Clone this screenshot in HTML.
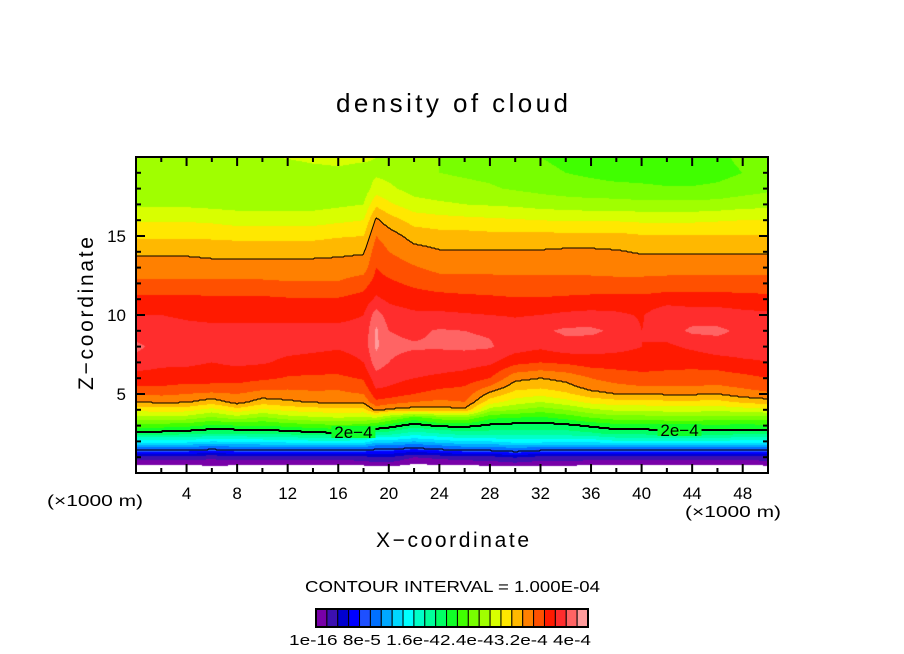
<!DOCTYPE html>
<html><head><meta charset="utf-8"><style>
body{margin:0;background:#fff;width:904px;height:654px;overflow:hidden;position:relative;font-family:"Liberation Sans",sans-serif}
canvas{position:absolute;left:0;top:0}
svg{position:absolute;left:0;top:0}
</style></head><body>
<canvas id="field" width="904" height="654"></canvas>
<svg id="ov" width="904" height="654">
<text x="336" y="112" font-size="26" textLength="232" lengthAdjust="spacing">density of cloud</text>
<text x="376" y="547" font-size="21" textLength="153" lengthAdjust="spacing">X−coordinate</text>
<text transform="translate(93,390) rotate(-90)" font-size="21" textLength="153" lengthAdjust="spacing">Z−coordinate</text>
<text x="47" y="506" font-size="16" textLength="96" lengthAdjust="spacingAndGlyphs">(×1000 m)</text>
<text x="685" y="517" font-size="16" textLength="96" lengthAdjust="spacingAndGlyphs">(×1000 m)</text>
<text x="305" y="592" font-size="16" textLength="295" lengthAdjust="spacingAndGlyphs">CONTOUR INTERVAL = 1.000E-04</text>
<g id="axes"></g>
<g id="cbar"></g>
<g id="clines"></g>
</svg>
<script>
// ---- data ----
const xCols=[0,2,4,6,8,10,12,14,16,18,19,20,22,24,26,28,30,32,34,36,38,40,42,44,46,48,50];
const zRows=[0,0.5,1,1.5,2,2.5,3,3.5,4,4.5,5,5.5,6,7,8,9,10,11,12,13,14,15,16,17,18,19,20];
const field=[
[-3,1.0,2.6,6,9.5,12.5,14.5,16.5,18.3,20,21,22,22.6,23.5,24.3,23.3,23,22.3,21.2,20.5,19.8,18.8,17.9,16.8,16.3,16.2,16.2],
[-3,1.1,2.6,6,9.5,12.5,14.5,16.6,18.5,20.2,21.2,22,22.6,23.2,23.5,23.3,23,22.3,21.2,20.5,19.8,18.8,17.9,16.8,16.3,16.2,16.3],
[-3,0.9,2.6,6,9.5,12.3,14.3,16.5,18.4,20.1,21,21.8,22.5,23.2,23.4,23.2,22.9,22.3,21.2,20.5,19.8,18.8,17.9,16.8,16.3,16.2,16.3],
[-3,1.4,2.2,5.5,9,12,13.8,15.8,17.6,19.5,20.8,21.8,22.4,23,23.5,23.2,22.8,22.2,21.2,20.4,19.7,18.8,17.8,16.7,16.2,16.1,16.3],
[-3,1.1,2.6,6,9.2,12,14,16.5,18.6,20.4,21,21.8,22.4,23.2,23.4,23.2,22.8,22.2,21.2,20.4,19.7,18.7,17.6,16.6,16.1,16.1,16.4],
[-3,1.1,2.6,6,9.3,12.2,14,15.8,17.8,19.5,20.6,21.4,22.2,23.1,23.4,23.2,22.8,22.2,21.2,20.4,19.7,18.7,17.6,16.6,16.1,16.2,16.9],
[-3,1.0,2.6,6,9.5,12.3,14.3,16.5,18.3,19.8,20.6,21.3,21.9,22.8,23.3,23.2,22.8,22.1,21.1,20.4,19.7,18.7,17.6,16.6,16.1,16.3,17.1],
[-3,1.0,2.6,6,9.7,12.7,14.6,16.8,18.5,20.1,20.8,21.3,21.8,22.7,23.2,23.2,22.8,22.1,21.1,20.4,19.7,18.7,17.6,16.6,16.2,16.6,17.3],
[-3,1.1,2.6,6,9.7,12.8,14.8,17,18.7,20.2,20.8,21.2,21.8,22.6,23.1,23.2,22.8,22.1,21.1,20.4,19.8,18.9,17.8,16.8,16.4,16.8,17.3],
[-3,1.2,2.6,6,9.6,12.6,14.6,16.8,18.6,20.3,21,21.6,22.1,23,23.3,23.2,23,22.4,21.6,20.5,19.9,19.0,18.0,17,16.4,16.6,17.2],
[-3,1.5,3,5.5,8.5,11.5,14,17,20.3,21.8,22.6,23.2,23.6,24.5,25.2,25.2,24.5,23.2,22.4,22,21.6,21,20.2,18.8,17.5,16.8,17],
[-2,1.5,3,5.5,8.5,11.5,13.5,16,19.8,21.5,22.5,23,23.3,24,24.2,24,23.5,22.8,22.2,21.6,21,20.5,19.5,18.2,17.2,16.7,17],
[-3,0.8,2,5,8,10.5,12.5,14.6,19.5,21,22,22.6,23,23.6,24.1,23.8,23.2,22.5,21.8,21.1,20.4,19.6,18.6,17.4,16.6,16.3,16.5],
[-3,1.0,2.3,5.5,8.5,11,13.2,15.5,19.5,20.8,21.6,22.2,22.8,23.5,24.1,24.1,23.2,22.4,21.5,20.7,20.1,19.4,18.4,17.2,16.3,16,16],
[-3,1.1,2.6,6,9,11.5,13.3,15.8,19.8,21,21.6,22,22.6,23.4,24.2,24,23.1,22.3,21.4,20.7,20.1,19.4,18.3,17,16.2,15.9,15.8],
[-3,1.3,2.6,6,9,11.5,12.8,14.2,16.5,18.5,19.7,21,22,23.2,24.1,23.9,23,22.2,21.4,20.7,20.1,19.3,18.2,16.9,16.1,15.8,15.6],
[-3,1.5,3.1,6.5,9.5,11.5,12.6,14,16,17.5,18.6,19.5,20.3,22.3,23.5,23.5,22.9,22.1,21.3,20.7,20.1,19.3,18.1,16.8,15.9,15.5,15.3],
[-3,1.3,2.6,6,9.5,11.5,12.5,13.8,15.5,17,18.3,19.3,20,22,23.2,23.8,23,22.1,21.3,20.7,20.1,19.3,18,16.6,15.7,15.2,15],
[-3,1.3,2.6,6,9.3,11.5,12.7,14.3,16,17.6,18.8,19.7,20.3,22.2,23.6,24.2,23.2,22.2,21.3,20.7,20.2,19.3,17.9,16.5,15.5,15,14.8],
[-3,1.1,2.6,6,9.3,11.8,13.2,15,16.8,18.3,19.6,20.5,21,22.5,23.5,24.2,23.3,22.3,21.3,20.7,20.2,19.3,17.9,16.4,15.4,14.8,14.6],
[-3,1.1,2.6,6,9.8,12.3,13.6,15.5,17.2,18.6,20,20.8,21.4,22.5,23.3,23.8,23.2,22.3,21.3,20.6,20.1,19.3,17.9,16.4,15.3,14.6,14.5],
[-3,1.1,2.6,6,9.8,12.3,13.6,15.5,17.2,18.6,20,21,21.6,22.6,23,23,22.9,22.3,21.3,20.6,19.9,19.1,17.8,16.3,15.2,14.6,14.5],
[-3,1.0,2.6,6,9.8,12.4,13.8,15.7,17.4,18.8,20.1,21,21.6,22.4,22.8,23.5,23.8,22.5,21.4,20.6,19.9,19.1,17.8,16.3,15.1,14.5,14.5],
[-3,1.1,2.6,6,9.8,12.4,13.8,15.7,17.4,18.8,20.1,21,21.6,22.3,23.2,24.2,23.5,22.5,21.4,20.6,19.9,19.1,17.8,16.3,15.1,14.5,14.6],
[-3,1.0,2.6,6,9.8,12.4,13.8,15.6,17.3,18.7,20,20.9,21.5,22.5,23.6,24.2,23.5,22.5,21.4,20.6,19.9,19.1,17.9,16.4,15.2,14.7,14.8],
[-3,0.9,2.6,6,9.6,12.3,13.7,15.5,17.5,19.2,20.5,21.2,21.7,22.8,23.6,23.8,23.3,22.4,21.4,20.6,19.9,19.1,18,16.6,15.5,15,15.2],
[-3,1.3,2.6,6,9.6,12.3,13.8,15.6,17.8,19.5,20.8,21.5,22,23,23.4,23.5,23.2,22.3,21.4,20.6,19.9,19.1,18,16.7,15.8,15.3,15.5]
];
const levelColors=["#7800a8","#3c10b0","#0000d0","#0000ff","#1e50ff","#0070ff","#00a8ff","#00d8ff","#00ffff","#00ffc8","#00ff9a","#00ff64","#10ff28","#40ff00","#78ff00","#a0ff00","#d8ff00","#ffe800","#ffb800","#ff8000","#ff5000","#ff1a00","#ff2d2d","#ff6464","#ff9c9c"];
const contourValues=[5.5,13,20];
const contourWidths=[1,2,1];
const xTicks=[4,8,12,16,20,24,28,32,36,40,44,48];
const yTicks=[5,10,15];
const cbarLabels="1e-16 8e-5 1.6e-42.4e-43.2e-4 4e-4";
// ---- layout ----
const L=136,R=768,T=157,B=473,X0=0,X1=50,Z0=0,Z1=20;
const sx=x=>L+(x-X0)/(X1-X0)*(R-L);
const sy=z=>B-(z-Z0)/(Z1-Z0)*(B-T);
const NS="http://www.w3.org/2000/svg";
function mk(tag,attrs,parent){const e=document.createElementNS(NS,tag);for(const k in attrs)e.setAttribute(k,attrs[k]);parent.appendChild(e);return e;}
function colVal(x){
  let i=0;while(i<xCols.length-2&&x>xCols[i+1])i++;
  const t=Math.max(0,Math.min(1,(x-xCols[i])/(xCols[i+1]-xCols[i])));
  return field[i].map((v,k)=>v*(1-t)+field[i+1][k]*t);
}
function valAt(prof,z){
  let j=0;while(j<zRows.length-2&&z>zRows[j+1])j++;
  const t=Math.max(0,Math.min(1,(z-zRows[j])/(zRows[j+1]-zRows[j])));
  return prof[j]*(1-t)+prof[j+1]*t;
}
// ---- field ----
const ctx=document.getElementById('field').getContext('2d');
const img=ctx.createImageData(R-L,B-T);
const rgb=levelColors.map(c=>[parseInt(c.substr(1,2),16),parseInt(c.substr(3,2),16),parseInt(c.substr(5,2),16)]);
const profiles=[];
for(let px=L;px<R;px++){
  const x=X0+(px+0.5-L)/(R-L)*(X1-X0);
  const prof=colVal(x);profiles.push(prof);
  for(let py=T;py<B;py++){
    const z=Z0+(B-py-0.5)/(B-T)*(Z1-Z0);
    const v=valAt(prof,z);
    const ci=Math.floor(v)-1;
    let c=[255,255,255];
    if(ci>=0)c=rgb[Math.min(levelColors.length-1,ci)];
    const o=((py-T)*(R-L)+(px-L))*4;
    img.data[o]=c[0];img.data[o+1]=c[1];img.data[o+2]=c[2];img.data[o+3]=255;
  }
}
ctx.putImageData(img,L,T);
// ---- contours ----
const cl=document.getElementById('clines');
contourValues.forEach((cv,ci)=>{
  const lower=[],upper=[];
  profiles.forEach((prof,i)=>{
    const px=L+i+0.5;const cr=[];
    for(let py=B-1;py>T;py--){
      const z1=Z0+(B-py-0.5)/(B-T)*(Z1-Z0),z2=Z0+(B-py+0.5)/(B-T)*(Z1-Z0);
      const a=valAt(prof,z2),b=valAt(prof,z1);
      if((a-cv)*(b-cv)<0)cr.push(py);
    }
    if(cr.length){lower.push([px,cr[0]]);if(cv===20&&cr.length>1)upper.push([px,cr[cr.length-1]]);}
  });
  [lower,upper].forEach((pts,k)=>{
    if(!pts.length)return;
    const p=mk('polyline',{points:pts.map(p=>p.join(',')).join(' '),fill:'none',stroke:'#000','stroke-width':contourWidths[ci]},cl);
    
    
  });
  if(cv===13){
    [[17.2],[43]].forEach(([lx])=>{
      const i=Math.round(sx(lx)-L);const py=lower.find(p=>Math.abs(p[0]-(L+i+0.5))<1);
      if(!py)return;
      const bg=mk('rect',{x:sx(lx)-22,y:py[1]-6,width:44,height:12,fill:'#10ff28'},cl);
      
      
      const t=mk('text',{x:sx(lx),y:py[1]+6,'text-anchor':'middle','font-size':17,fill:'#000'},cl);
      t.textContent='2e−4';
      
      
    });
  }
});
// ---- axes ----
const ax=document.getElementById('axes');
const fr=mk('rect',{x:L,y:T,width:R-L,height:B-T,fill:'none',stroke:'#000','stroke-width':2},ax);


for(let x=2;x<X1;x+=2){
  const major=xTicks.includes(x);const len=major?9:5;
  const t1=mk('line',{x1:sx(x),x2:sx(x),y1:B,y2:B-len,stroke:'#000','stroke-width':2},ax);
  
  
  const t2=mk('line',{x1:sx(x),x2:sx(x),y1:T,y2:T+len,stroke:'#000','stroke-width':2},ax);
  
  
}
xTicks.forEach(x=>{
  const t=mk('text',{x:sx(x),y:499,'text-anchor':'middle','font-size':17},ax);t.textContent=x;
  
  
});
for(let z=1;z<Z1;z++){
  const major=yTicks.includes(z);const len=major?9:5;
  const t1=mk('line',{x1:L,x2:L+len,y1:sy(z),y2:sy(z),stroke:'#000','stroke-width':2},ax);
  
  
  const t2=mk('line',{x1:R,x2:R-len,y1:sy(z),y2:sy(z),stroke:'#000','stroke-width':2},ax);
  
  
}
yTicks.forEach(z=>{
  const t=mk('text',{x:126,y:sy(z)+6,'text-anchor':'end','font-size':17},ax);t.textContent=z;
  
  
});
// ---- colorbar ----
const cb=document.getElementById('cbar');
const cbL=316,cbR=588,cbT=609,cbB=627,bw=(cbR-cbL)/levelColors.length;
levelColors.forEach((c,i)=>{
  const r=mk('rect',{x:cbL+i*bw,y:cbT,width:bw,height:cbB-cbT,fill:c,stroke:'#000','stroke-width':1},cb);
  
  
});
const cbf=mk('rect',{x:cbL,y:cbT,width:cbR-cbL,height:cbB-cbT,fill:'none',stroke:'#000','stroke-width':2},cb);


const cbt=mk('text',{x:289,y:645,'font-size':15,textLength:302,lengthAdjust:'spacingAndGlyphs'},cb);
cbt.textContent=cbarLabels;


</script>
</body></html>
